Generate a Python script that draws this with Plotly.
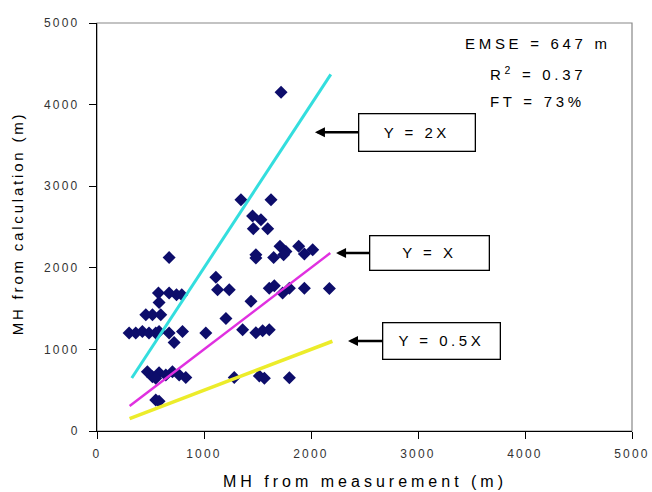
import plotly.graph_objects as go

# ---- data ----
meas_x = [1720, 1345, 1626, 1454, 1532, 1461, 1595, 674, 1710, 1766, 1744, 1885, 1938, 2016,
          1485, 1485, 1651, 1111, 1127, 1236, 1610, 1657, 1735, 1798, 1938, 2172, 574, 674,
          743, 792, 580, 1439, 456, 518, 596, 1205, 300, 362, 424, 486, 549, 580, 674, 799,
          1017, 1361, 1485, 1548, 1610, 721, 471, 518, 580, 643, 705, 768, 830, 549, 1283,
          1517, 1564, 1798, 549, 580]
calc_y = [4150, 2835, 2835, 2635, 2590, 2480, 2480, 2125, 2265, 2200, 2160, 2265, 2170, 2220,
          2160, 2120, 2125, 1885, 1730, 1730, 1750, 1780, 1690, 1750, 1750, 1745, 1690, 1690,
          1670, 1670, 1575, 1590, 1425, 1425, 1425, 1380, 1200, 1200, 1220, 1200, 1200, 1220,
          1200, 1220, 1200, 1240, 1205, 1230, 1240, 1085, 725, 665, 715, 685, 725, 685, 655,
          645, 655, 675, 645, 653, 380, 365]

ref_labels = ["Y = 2X", "Y = X", "Y = 0.5X"]
ref_slopes = [2.0, 1.0, 0.5]
ref_x_start = [325, 305, 305]
ref_x_end = [2185, 2180, 2200]
ref_colors = ["#33dede", "#e030e0", "#ecec2a"]
ref_widths = [3, 2.5, 3.5]

tick_vals = [0, 1000, 2000, 3000, 4000, 5000]
tick_text = ["0", "1000", "2000", "3000", "4000", "5000"]

stats_lines = ["EMSE = 647 m", "R<sup>2</sup> = 0.37", "FT = 73%"]

FONT = "Liberation Sans, Arial, sans-serif"


def spaced(t, px):
    return f'<span style="letter-spacing:{px}px">{t}</span>'


fig = go.Figure()

fig.add_trace(go.Scatter(
    x=meas_x, y=calc_y, mode="markers",
    marker=dict(symbol="diamond", size=10, color="#0d0d6b"),
    showlegend=False, hoverinfo="skip"))

for s, x0, x1, c, w in zip(ref_slopes, ref_x_start, ref_x_end, ref_colors, ref_widths):
    fig.add_trace(go.Scatter(
        x=[x0, x1], y=[s * x0, s * x1], mode="lines",
        line=dict(color=c, width=w), showlegend=False, hoverinfo="skip"))

axis_common = dict(
    range=[0, 5000], tickvals=tick_vals,
    ticktext=[spaced(t, 2.2) for t in tick_text],
    showgrid=False, zeroline=False, showline=True, linecolor="black", linewidth=1.2,
    ticks="outside", ticklen=7, tickwidth=1.2, tickcolor="black",
    automargin=False, ticklabeloverflow="allow",
    tickfont=dict(family=FONT, size=12, color="#333333"))

fig.update_xaxes(**axis_common, ticklabelstandoff=4)
fig.update_yaxes(**axis_common, ticklabelstandoff=7)

annotations = []
# arrow boxes: (tip x, tip y, box offset px, box w, box h)
arrow_tips = [(2037, 3662, 102, 113, 34), (2234, 2180, 93, 116, 31), (2346, 1102, 93, 114, 33)]
for lab, (tx, ty, ax, bw, bh) in zip(ref_labels, arrow_tips):
    annotations.append(dict(
        x=tx, y=ty, xref="x", yref="y", ax=ax, ay=0,
        text=spaced(lab, 3.5), showarrow=True, arrowhead=2, arrowsize=0.8,
        arrowwidth=2.5, arrowcolor="black", standoff=0,
        bordercolor="black", borderwidth=1.3, borderpad=1,
        bgcolor="white", width=bw, height=bh,
        font=dict(family=FONT, size=15, color="black")))

stats_y = [4751, 4384, 4040]
for t, yy in zip(stats_lines, stats_y):
    annotations.append(dict(
        x=4121, y=yy, xref="x", yref="y", text=spaced(t, 3.7), showarrow=False,
        xanchor="center", yanchor="middle",
        font=dict(family=FONT, size=15, color="black")))

annotations.append(dict(
    x=0.501, y=-0.123, xref="paper", yref="paper",
    text=spaced("MH from measurement (m)", 4), showarrow=False,
    xanchor="center", yanchor="middle",
    font=dict(family=FONT, size=16, color="black")))
annotations.append(dict(
    x=-0.147, y=0.51, xref="paper", yref="paper", textangle=-90,
    text=spaced("MH from calculation (m)", 2.8), showarrow=False,
    xanchor="center", yanchor="middle",
    font=dict(family=FONT, size=15, color="black")))

fig.update_layout(
    width=652, height=492,
    margin=dict(l=97, r=20, t=23, b=61, autoexpand=False),
    paper_bgcolor="white", plot_bgcolor="white",
    annotations=annotations,
    shapes=[dict(type="rect", xref="paper", yref="paper", x0=0, y0=0, x1=1, y1=1,
                 line=dict(color="#888888", width=1.2), layer="below")])

fig.write_html("out.html", config={"displayModeBar": False},
               post_script="document.body.style.margin='0';document.body.style.overflow='hidden';")
